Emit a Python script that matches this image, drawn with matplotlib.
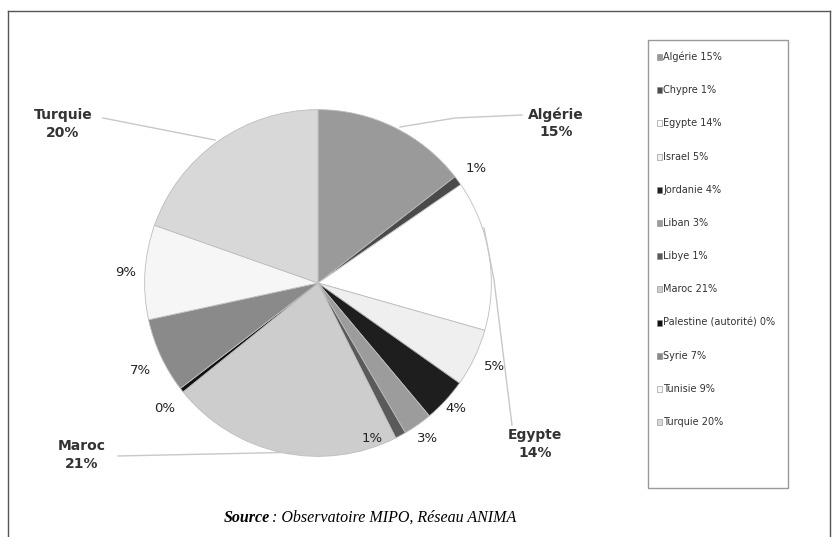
import matplotlib
matplotlib.use('Agg')
import matplotlib.pyplot as plt
from matplotlib.patches import Rectangle
from matplotlib.lines import Line2D

# pays et parts
pays = ['Algérie', 'Chypre', 'Egypte', 'Israel', 'Jordanie', 'Liban', 'Libye',
        'Maroc', 'Palestine (autorité)', 'Syrie', 'Tunisie', 'Turquie']
parts = [14.5, 0.9, 14.0, 5.4, 4.1, 2.7, 1.0, 21.6, 0.4, 7.0, 8.8, 19.6]
etiquettes = ['15%', '1%', '14%', '5%', '4%', '3%', '1%', '21%', '0%', '7%', '9%', '20%']
couleurs = ['#9a9a9a', '#4a4a4a', '#ffffff', '#efefef', '#1e1e1e', '#9c9c9c',
            '#5a5a5a', '#cdcdcd', '#111111', '#8a8a8a', '#f6f6f6', '#d8d8d8']

W, H = 838, 537
fig = plt.figure(figsize=(W / 100, H / 100), dpi=100)

def fx(x):
    return x / W

def fy(y):
    return 1 - y / H

# camembert
cx, cy, r = 318, 283, 176
ax = fig.add_axes([fx(cx - r), fy(cy + r), 2 * r / W, 2 * r / H])
wedges, _ = ax.pie(parts, colors=couleurs, startangle=90, counterclock=False,
                   radius=0.985, wedgeprops=dict(edgecolor='#bdbdbd', linewidth=0.6))
ax.set_xlim(-1, 1)
ax.set_ylim(-1, 1)
ax.axis('off')

# cadre exterieur
fig.add_artist(Line2D([fx(8), fx(830)], [fy(11), fy(11)], color='#555555', lw=1))
fig.add_artist(Line2D([fx(8), fx(8)], [fy(11), fy(537)], color='#555555', lw=1))
fig.add_artist(Line2D([fx(830), fx(830)], [fy(11), fy(537)], color='#555555', lw=1))

# etiquettes
bold = dict(fontsize=10, fontweight='bold', color='#333333', ha='center', va='center',
            linespacing=1.3)
fig.text(fx(556), fy(123), 'Algérie\n15%', **bold)
fig.text(fx(63), fy(124), 'Turquie\n20%', **bold)
fig.text(fx(82), fy(455), 'Maroc\n21%', **bold)
fig.text(fx(535), fy(444), 'Egypte\n14%', **bold)

petits = [('1%', 476, 168), ('5%', 494, 366), ('4%', 456, 409), ('3%', 428, 438),
          ('1%', 372, 438), ('0%', 165, 409), ('7%', 140, 371), ('9%', 126, 273)]
for t, x, y in petits:
    fig.text(fx(x), fy(y), t, fontsize=9.5, color='#222222',
             ha='center', va='center')

# traits de rappel
gris = '#c8c8c8'
fig.add_artist(Line2D([fx(400), fx(455), fx(522)], [fy(127), fy(118), fy(115)], color=gris, lw=1))
fig.add_artist(Line2D([fx(103), fx(215)], [fy(118), fy(140)], color=gris, lw=1))
fig.add_artist(Line2D([fx(118), fx(305)], [fy(456), fy(452)], color=gris, lw=1))
fig.add_artist(Line2D([fx(484), fx(494), fx(512)], [fy(228), fy(280), fy(425)], color=gris, lw=1))

# legende
fig.add_artist(Rectangle((fx(648), fy(488)), fx(788) - fx(648), fy(40) - fy(488),
                         transform=fig.transFigure, fill=False, edgecolor='#999999', lw=1))
for i, p in enumerate(pays):
    y = 57 + i * 33.2
    fig.add_artist(Rectangle((fx(657), fy(y + 3)), 5 / W, 6 / H, transform=fig.transFigure,
                             facecolor=couleurs[i], edgecolor='#888888', lw=0.4))
    fig.text(fx(663), fy(y), p + ' ' + etiquettes[i], fontsize=7, color='#333333',
             ha='left', va='center')

# source
fig.text(fx(224), fy(518), 'Source', fontsize=11.5, ha='left', va='center',
         family='Liberation Serif', style='italic', fontweight='bold')
fig.text(fx(272), fy(518), ': Observatoire MIPO, Réseau ANIMA', fontsize=11.5, ha='left',
         va='center', style='italic', family='Liberation Serif')

fig.savefig('out.png', dpi=100)
